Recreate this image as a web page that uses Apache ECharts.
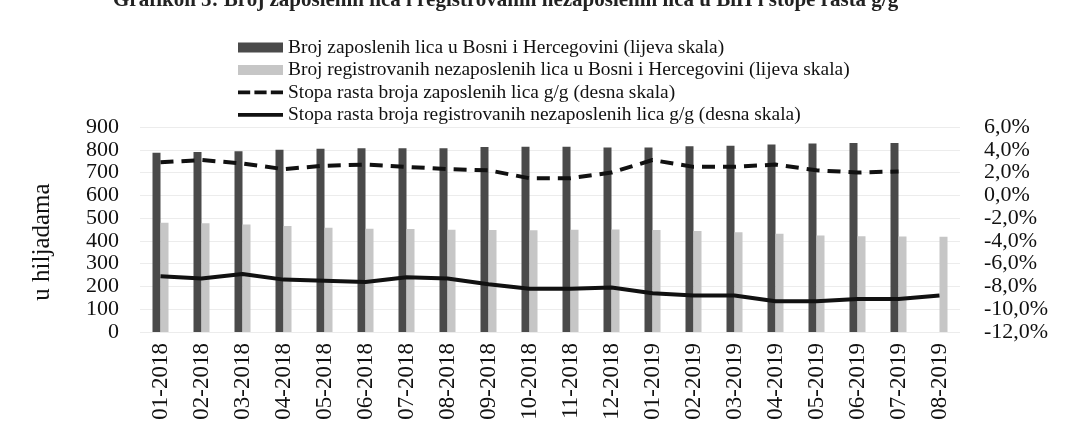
<!DOCTYPE html>
<html>
<head>
<meta charset="utf-8">
<script src="https://cdn.jsdelivr.net/npm/echarts@6/dist/echarts.min.js"></script>
<style>
  html, body { margin: 0; padding: 0; background: #fff; }
  #chart { width: 1073px; height: 428px; }
</style>
</head>
<body>
<div id="chart"></div>
<script>
// mjeseci
const months = ['01-2018', '02-2018', '03-2018', '04-2018', '05-2018', '06-2018', '07-2018',
  '08-2018', '09-2018', '10-2018', '11-2018', '12-2018', '01-2019', '02-2019', '03-2019',
  '04-2019', '05-2019', '06-2019', '07-2019', '08-2019'];

// u hiljadama (lijeva skala)
const zaposleni = [787, 790, 793, 800, 805, 807, 807, 807, 812, 813, 813, 810,
  810, 815, 818, 823, 828, 830, 830, null];
const nezaposleni = [480, 477, 472, 465, 458, 453, 452, 449, 448, 447, 449, 450,
  448, 443, 438, 431, 424, 420, 419, 418];

// stope rasta g/g u % (desna skala)
const rastZaposleni = [2.9, 3.1, 2.8, 2.3, 2.6, 2.7, 2.5, 2.3, 2.2, 1.5, 1.5, 2.0,
  3.1, 2.5, 2.5, 2.7, 2.2, 2.0, 2.1, null];
const rastNezaposleni = [-7.1, -7.3, -6.9, -7.4, -7.5, -7.6, -7.2, -7.3, -7.8, -8.2, -8.2, -8.1,
  -8.6, -8.8, -8.8, -9.3, -9.3, -9.1, -9.1, -8.8];

const names = [
  'Broj zaposlenih lica u Bosni i Hercegovini (lijeva skala)',
  'Broj registrovanih nezaposlenih lica u Bosni i Hercegovini (lijeva skala)',
  'Stopa rasta broja zaposlenih lica g/g (desna skala)',
  'Stopa rasta broja registrovanih nezaposlenih lica g/g (desna skala)'
];

const font = 'Liberation Serif';
let myChart = echarts.init(document.getElementById('chart'));

// ikonice legende za linije (puna i isprekidana)
const dashIcon = 'path://M0,3h13v4h-13z M17.5,3h13v4h-13z M35,3h13v4h-13z M0,0h0.01v0.01h-0.01z M0,10h0.01v0.01h-0.01z';
const solidIcon = 'path://M0,3h48v4h-48z M0,0h0.01v0.01h-0.01z M0,10h0.01v0.01h-0.01z';

let option = {
  backgroundColor: '#fff',
  animation: false,
  textStyle: { fontFamily: font, color: '#111' },
  title: {
    text: 'Grafikon 5: Broj zaposlenih lica i registrovanih nezaposlenih lica u BiH i stope rasta g/g',
    left: 108,
    top: -15,
    textStyle: { fontFamily: font, fontSize: 21, fontWeight: 'bold', color: '#222' }
  },
  legend: {
    orient: 'vertical',
    left: 233,
    top: 33,
    itemWidth: 45,
    itemHeight: 10,
    itemGap: 3.5,
    textStyle: { fontFamily: font, fontSize: 19.4, color: '#111' },
    data: [
      { name: names[0], icon: 'rect' },
      { name: names[1], icon: 'rect' },
      { name: names[2], icon: dashIcon },
      { name: names[3], icon: solidIcon }
    ]
  },
  graphic: [{
    type: 'text',
    x: 42, y: 242,
    rotation: Math.PI / 2,
    style: {
      text: 'u hiljadama',
      font: '25px "Liberation Serif"',
      fill: '#111',
      align: 'center',
      verticalAlign: 'middle'
    }
  }],
  grid: { left: 140, right: 113, top: 127, bottom: 96 },
  xAxis: {
    type: 'category',
    data: months,
    axisLine: { show: false },
    axisTick: { show: false },
    axisLabel: { rotate: 90, fontFamily: font, fontSize: 23, color: '#111', margin: 11, interval: 0 }
  },
  yAxis: [
    {
      type: 'value',
      min: 0, max: 900, interval: 100,
      axisLine: { show: false },
      axisTick: { show: false },
      axisLabel: {
        fontFamily: font, fontSize: 22, lineHeight: 14, color: '#111', margin: 21,
        showMinLabel: true, showMaxLabel: true, hideOverlap: false
      },
      splitLine: { lineStyle: { color: '#ececec', width: 1 } }
    },
    {
      type: 'value',
      min: -12, max: 6, interval: 2,
      position: 'right',
      axisLine: { show: false },
      axisTick: { show: false },
      axisLabel: {
        fontFamily: font, fontSize: 22, lineHeight: 14, color: '#111', margin: 24,
        showMinLabel: true, showMaxLabel: true, hideOverlap: false,
        formatter: v => v.toFixed(1).replace('.', ',') + '%'
      },
      splitLine: { show: false }
    }
  ],
  series: [
    {
      name: names[0], type: 'bar', data: zaposleni, yAxisIndex: 0,
      barWidth: 8, barGap: '0%',
      itemStyle: { color: '#4a4a4a' }
    },
    {
      name: names[1], type: 'bar', data: nezaposleni, yAxisIndex: 0,
      barWidth: 8, barGap: '0%',
      itemStyle: { color: '#c6c6c6' }
    },
    {
      name: names[2], type: 'line', data: rastZaposleni, yAxisIndex: 1,
      symbol: 'none',
      lineStyle: { color: '#111', width: 4, type: [13, 8] },
      itemStyle: { color: '#111' },
      z: 5
    },
    {
      name: names[3], type: 'line', data: rastNezaposleni, yAxisIndex: 1,
      symbol: 'none',
      lineStyle: { color: '#111', width: 4 },
      itemStyle: { color: '#111' },
      z: 5
    }
  ]
};

myChart.setOption(option);
</script>
</body>
</html>
